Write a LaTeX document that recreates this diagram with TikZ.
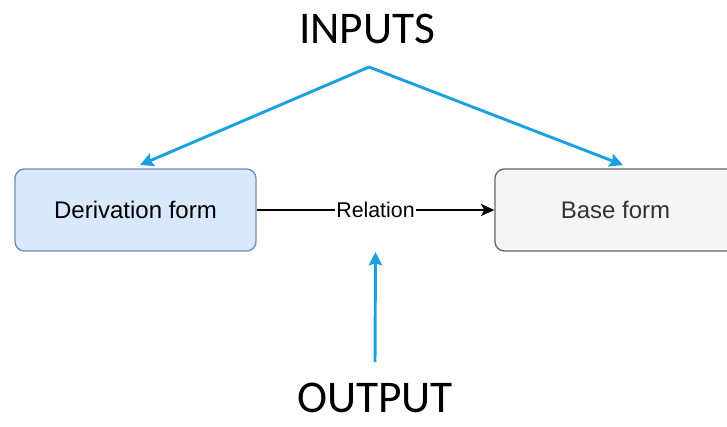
\documentclass[tikz,border=0pt]{standalone}
\usepackage{fontspec}
\setmainfont{Liberation Sans}
\newfontfamily\slidefont{Carlito}
\usetikzlibrary{arrows.meta}

\definecolor{boxblue}{HTML}{DAE8FC}
\definecolor{lineblue}{HTML}{6C8EBF}
\definecolor{boxgrey}{HTML}{F5F5F5}
\definecolor{linegrey}{HTML}{666666}
\definecolor{textgrey}{HTML}{333333}
\definecolor{flowblue}{HTML}{1BA1E2}

\tikzset{
	formbox/.style={draw, line width=1pt, rounded corners=7pt, minimum width=180.75pt, minimum height=61.5pt, inner sep=0pt, font=\fontsize{18}{20}\selectfont},
	bigword/.style={inner sep=0pt, font=\slidefont\fontsize{34}{38}\selectfont},
	flow/.style={draw=flowblue, line width=2.2pt, -{Stealth[length=10pt, width=10pt, inset=1.5pt]}},
}

\begin{document}
\begin{tikzpicture}[x=0.75pt, y=0.75pt]

	\clip (0,0) rectangle (727,426);

	%the two forms
	\node[formbox, fill=boxblue, draw=lineblue] (deriv) at (135.5,216) {Derivation form};
	\node[formbox, fill=boxgrey, draw=linegrey, text=textgrey] (base) at (615.5,216) {Base form};

	%relation between them
	\draw[line width=1.1pt, -{Stealth[length=10pt, width=9pt, inset=2.5pt]}] (deriv.east) -- (base.west)
		node[midway, fill=white, inner sep=1pt, font=\fontsize{16}{18}\selectfont] (rel) {Relation};

	%inputs
	\node[bigword] (inputs) at (367,397) {INPUTS};
	\coordinate (apex) at (369,359);
	\draw[flow] (apex) -- ([shift={(4.5,45)}]deriv.center);
	\draw[flow] (apex) -- ([shift={(7.5,45)}]base.center);

	%output
	\node[bigword] (output) at (375,28) {OUTPUT};
	\draw[flow] ([shift={(0,36)}]output.center) -- ([shift={(0,-42)}]rel.center);

\end{tikzpicture}
\end{document}
